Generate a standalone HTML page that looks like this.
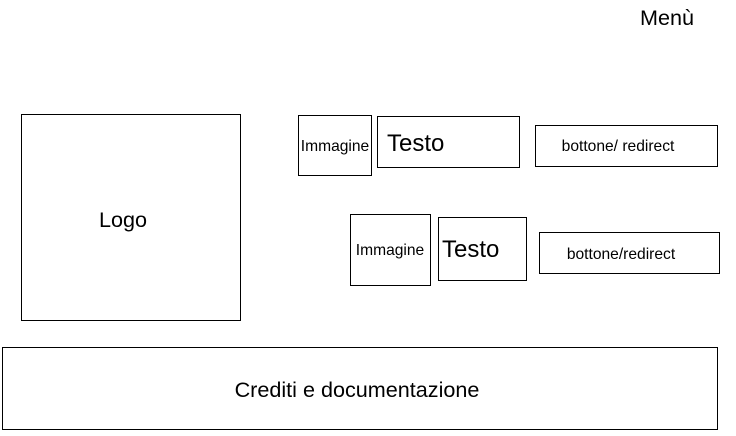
<!DOCTYPE html>
<html><head><meta charset="utf-8"><style>body{margin:0;background:#fff}svg{display:block}</style></head>
<body>
<svg width="736" height="436" xmlns="http://www.w3.org/2000/svg" font-family="Liberation Sans, Arial, sans-serif" fill="none" stroke="#000" stroke-width="1">
<rect x="21.5" y="114.5" width="219" height="206"/>
<rect x="298.5" y="115.5" width="73" height="60"/>
<rect x="377.5" y="116.5" width="142" height="51"/>
<rect x="535.5" y="125.5" width="182" height="41"/>
<rect x="350.5" y="214.5" width="80" height="71"/>
<rect x="438.5" y="217.5" width="88" height="63"/>
<rect x="539.5" y="232.5" width="180" height="41"/>
<rect x="2.5" y="347.5" width="715" height="82"/>
<g fill="#000" stroke="none">
<text x="640" y="25" font-size="21.6">Menù</text>
<text x="123" y="227" font-size="21.6" text-anchor="middle">Logo</text>
<text x="335" y="151" font-size="15.6" text-anchor="middle">Immagine</text>
<text x="387" y="151" font-size="24">Testo</text>
<text x="618" y="151" font-size="15.6" text-anchor="middle">bottone/ redirect</text>
<text x="390" y="255" font-size="15.6" text-anchor="middle">Immagine</text>
<text x="442" y="257" font-size="24">Testo</text>
<text x="621" y="259" font-size="15.6" text-anchor="middle">bottone/redirect</text>
<text x="357" y="397" font-size="21.6" text-anchor="middle">Crediti e documentazione</text>
</g>
</svg>
</body></html>
